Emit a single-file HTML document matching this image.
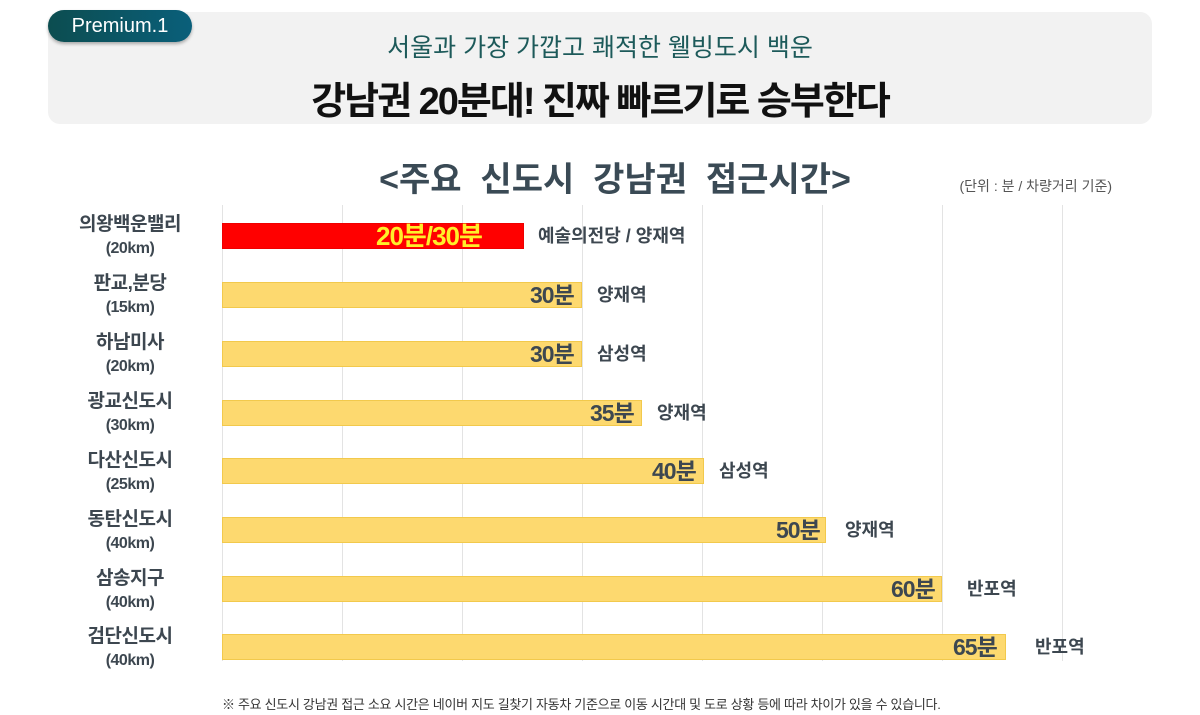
<!DOCTYPE html>
<html><head><meta charset="utf-8"><style>
body{margin:0;width:1200px;height:715px;background:#fff;position:relative;overflow:hidden;font-family:"Liberation Sans","Noto Sans CJK KR",sans-serif}
.a{position:absolute;white-space:nowrap}
.g{position:absolute;top:205px;height:456px;width:1px;background:#e3e3e3}
.bar{position:absolute;left:222px;height:26px;background:#fdd96f;border:1px solid #f2c94c;box-sizing:border-box}
.v{position:absolute;font-weight:bold;font-size:23px;color:#3d4750;letter-spacing:-1px;line-height:26px}
.st{position:absolute;font-weight:bold;font-size:18px;color:#3d4750;line-height:26px}
.lb{position:absolute;left:60px;width:140px;text-align:center;font-weight:bold;color:#3d4750;font-size:19px;line-height:23px;letter-spacing:-0.5px}
.lb span{font-size:16px}
</style></head><body>
<div class="a" style="left:48px;top:12px;width:1104px;height:112px;background:#f2f2f2;border-radius:12px"></div>
<div class="a" style="left:48px;top:10px;width:144px;height:32px;border-radius:16px;background:linear-gradient(90deg,#0c4d50,#0a5f7a);box-shadow:0 2px 3px rgba(0,0,0,.3);color:#fff;font-size:20px;line-height:32px;text-align:center">Premium.1</div>
<div class="a" style="left:0;width:1200px;text-align:center;top:28px;font-size:25px;color:#1d5a5a">서울과 가장 가깝고 쾌적한 웰빙도시 백운</div>
<div class="a" style="left:0;width:1200px;text-align:center;top:70px;font-size:38px;font-weight:bold;color:#111;letter-spacing:-2px">강남권 20분대! 진짜 빠르기로 승부한다</div>
<div class="a" style="left:0;width:1230px;text-align:center;top:152px;font-size:34px;font-weight:bold;color:#3a4a55">&lt;주요 &nbsp;신도시 &nbsp;강남권 &nbsp;접근시간&gt;</div>
<div class="a" style="right:88px;top:176px;font-size:14px;color:#555">(단위 : 분 / 차량거리 기준)</div>
<div class="g" style="left:222px"></div><div class="g" style="left:342px"></div><div class="g" style="left:462px"></div><div class="g" style="left:582px"></div><div class="g" style="left:702px"></div><div class="g" style="left:822px"></div><div class="g" style="left:942px"></div><div class="g" style="left:1062px"></div>

<div class="bar" style="top:223px;width:302px;background:#f00;border-color:#e00"></div>
<div class="v" style="top:223px;left:376px;color:#ffef2a;font-size:26px">20분/30분</div>
<div class="st" style="top:223px;left:538px">예술의전당 / 양재역</div>

<div class="bar" style="top:282px;width:360px"></div><div class="v" style="top:282px;left:530px">30분</div><div class="st" style="top:282px;left:597px">양재역</div>
<div class="bar" style="top:341px;width:360px"></div><div class="v" style="top:341px;left:530px">30분</div><div class="st" style="top:341px;left:597px">삼성역</div>
<div class="bar" style="top:400px;width:420px"></div><div class="v" style="top:400px;left:590px">35분</div><div class="st" style="top:400px;left:657px">양재역</div>
<div class="bar" style="top:458px;width:482px"></div><div class="v" style="top:458px;left:652px">40분</div><div class="st" style="top:458px;left:719px">삼성역</div>
<div class="bar" style="top:517px;width:604px"></div><div class="v" style="top:517px;left:776px">50분</div><div class="st" style="top:517px;left:845px">양재역</div>
<div class="bar" style="top:576px;width:720px"></div><div class="v" style="top:576px;left:891px">60분</div><div class="st" style="top:576px;left:967px">반포역</div>
<div class="bar" style="top:634px;width:784px"></div><div class="v" style="top:634px;left:953px">65분</div><div class="st" style="top:634px;left:1035px">반포역</div>

<div class="lb" style="top:213px">의왕백운밸리<br><span>(20km)</span></div>
<div class="lb" style="top:272px">판교,분당<br><span>(15km)</span></div>
<div class="lb" style="top:331px">하남미사<br><span>(20km)</span></div>
<div class="lb" style="top:390px">광교신도시<br><span>(30km)</span></div>
<div class="lb" style="top:449px">다산신도시<br><span>(25km)</span></div>
<div class="lb" style="top:508px">동탄신도시<br><span>(40km)</span></div>
<div class="lb" style="top:567px">삼송지구<br><span>(40km)</span></div>
<div class="lb" style="top:625px">검단신도시<br><span>(40km)</span></div>

<div class="a" style="left:222px;top:694px;font-size:13px;color:#333;letter-spacing:-0.3px">※ 주요 신도시 강남권 접근 소요 시간은 네이버 지도 길찾기 자동차 기준으로 이동 시간대 및 도로 상황 등에 따라 차이가 있을 수 있습니다.</div>
</body></html>
